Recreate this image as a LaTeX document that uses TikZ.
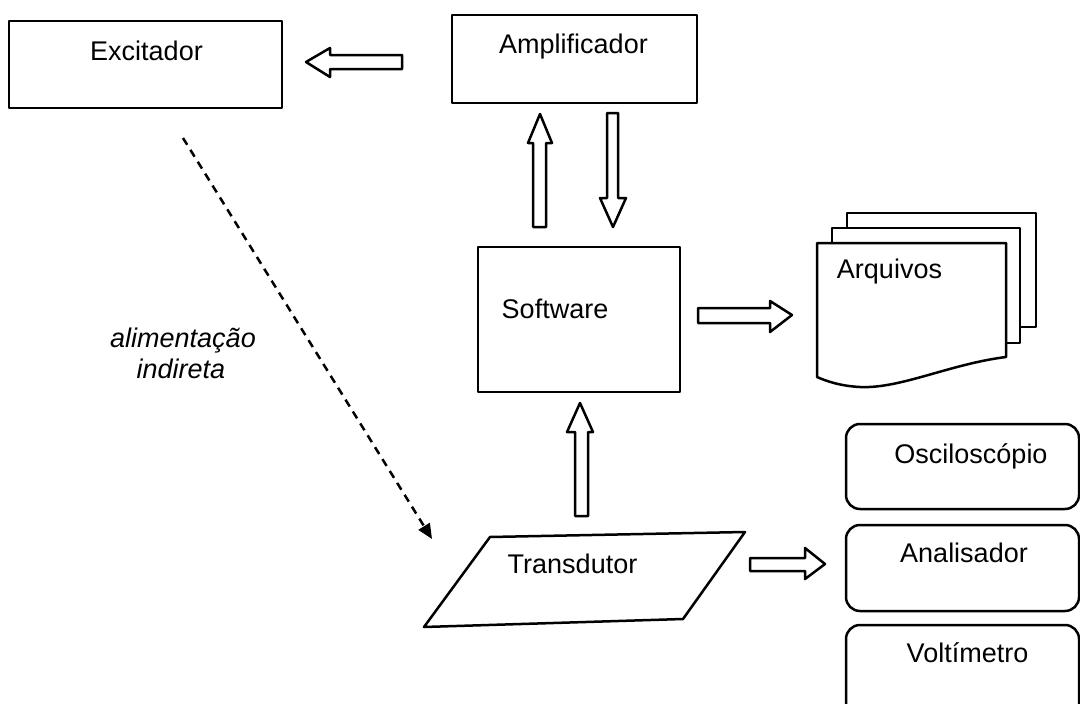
\documentclass[tikz,border=0pt]{standalone}
\usepackage{fontspec}
\setmainfont{Liberation Sans}
\usetikzlibrary{arrows.meta}
\begin{document}
\begin{tikzpicture}[x=1pt,y=-1pt,
  lw/.style={line width=2.5pt, line join=round},
  box/.style={lw, draw, fill=white, inner sep=0pt},
  rbox/.style={box, rounded corners=14pt},
  txt/.style={inner sep=0pt, anchor=base, font=\fontsize{27}{30}\selectfont},
  itxt/.style={txt, font=\fontsize{27}{30}\selectfont\itshape},
  blockarrow/.style={lw, draw, fill=white},
  dasharrow/.style={line width=2.5pt, dash pattern=on 8pt off 6pt, -{Triangle[length=15pt,width=13pt]}}
]
\clip (0,0) rectangle (1080,704);
\useasboundingbox (0,0) rectangle (1080,704);

% boxes
\node[box, minimum width=273pt, minimum height=87pt] (exc) at (145.5,64.5) {};
\node[txt] (excT) at (146.5,60) {Excitador};
\node[box, minimum width=245pt, minimum height=88pt] (amp) at (574.5,59) {};
\node[txt] (ampT) at (573.5,53) {Amplificador};
\node[box, minimum width=202pt, minimum height=145pt] (soft) at (579,319.5) {};
\node[txt] (softT) at (555,318) {Software};

% transducer parallelogram
\draw[lw, fill=white] (490,537) -- (745,532) -- (683,619) -- (424,627) -- cycle;
\coordinate (trans) at (585,579);
\node[txt] (transT) at (572.5,573) {Transdutor};

% files stack
\draw[lw, fill=white] (847,213) rectangle (1036,327);
\draw[lw, fill=white] (832,228) rectangle (1020,343);
\draw[lw, fill=white] (817,243) -- (1006,243) -- (1006,357)
  .. controls (950,364) and (900,389) .. (860,387)
  .. controls (840,386) and (826,381) .. (817,377) -- cycle;
\node[txt] (arqT) at (889.5,278) {Arquivos};

% instruments
\draw[rbox] (846,424) rectangle (1079,509);
\coordinate (osc) at (962,466);
\node[txt] (oscT) at (971,463) {Osciloscópio};
\draw[rbox] (846,525) rectangle (1079,611);
\coordinate (anal) at (962,568);
\node[txt] (analT) at (964,562) {Analisador};
\draw[rbox] (846,625) rectangle (1079,740);
\coordinate (volt) at (962,680);
\node[txt] (voltT) at (967.5,662) {Voltímetro};

% block arrows
% Amplificador -> Excitador
\draw[blockarrow] (402,55) -- (330,55) -- (330,48) -- (306,62) -- (330,77) -- (330,69) -- (402,69) -- cycle;
% Software -> Amplificador
\draw[blockarrow] (533,227) -- (533,143) -- (528,143) -- (540,114) -- (552,143) -- (546,143) -- (546,227) -- cycle;
% Amplificador -> Software
\draw[blockarrow] (607,113) -- (618,113) -- (618,198) -- (626,198) -- (613,227) -- (600,198) -- (607,198) -- cycle;
% Transdutor -> Software
\draw[blockarrow] (575,516) -- (575,432) -- (567,432) -- (580,403) -- (593,432) -- (588,432) -- (588,516) -- cycle;
% Software -> Arquivos
\draw[blockarrow] (698,308) -- (770,308) -- (770,301) -- (792,315) -- (770,332) -- (770,323) -- (698,323) -- cycle;
% Transdutor -> Analisador
\draw[blockarrow] (750,558) -- (805,558) -- (805,548) -- (825,564) -- (805,579) -- (805,571) -- (750,571) -- cycle;

% indirect feed
\coordinate (dA) at (183,138);
\coordinate (dB) at (432,539);
\draw[dasharrow] (dA) -- (dB);
\node[itxt] (lab1) at (183,347) {alimentação};
\node[itxt] (lab2) at (181,378) {indireta};
\end{tikzpicture}
\end{document}
